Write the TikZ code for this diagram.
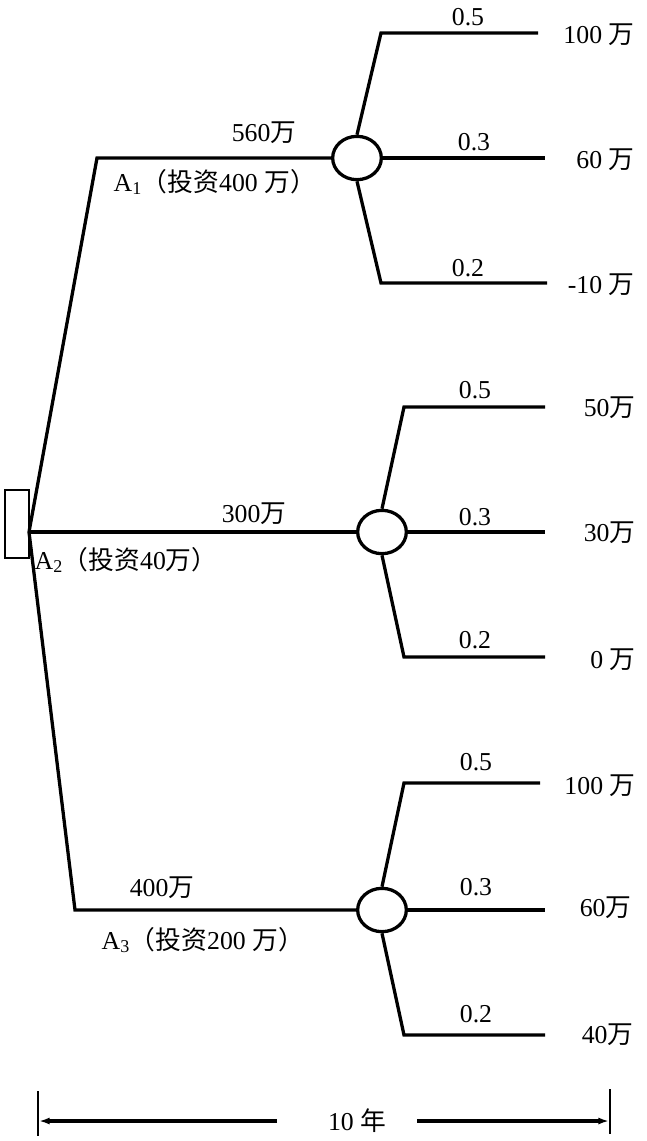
\documentclass[tikz,border=0pt]{standalone}
\usepackage{fontspec}
\setmainfont{Liberation Serif}
\newfontfamily\cjk{Noto Sans CJK SC}
\usetikzlibrary{arrows.meta,positioning,shapes.geometric}
\newcommand{\wan}{{\cjk 万}}

\begin{document}
\begin{tikzpicture}[x=0.03cm, y=-0.03cm, >={Latex[length=9pt,width=6pt]}, line width=2.8pt,
  decision/.style={draw, rectangle, line width=2.2pt, minimum width=0.72cm, minimum height=2.04cm, inner sep=0pt},
  chance/.style={draw, ellipse, minimum width=1.46cm, minimum height=1.3cm, inner sep=0pt},
  txt/.style={font=\fontsize{22}{25}\selectfont, inner sep=0pt}]
\useasboundingbox (0,0) rectangle (647,1141);

\node[decision] (dec) at (17,524) {};
\node[chance] (c1) at (357,158) {};
\node[chance] (c2) at (382,532) {};
\node[chance] (c3) at (382,910) {};

\coordinate (root) at (29,532);
\coordinate (a1) at (97,158);
\coordinate (a3) at (75,910);

\draw (root) -- (a1) -- (c1);
\draw (root) -- (c2);
\draw (root) -- (a3) -- (c3);

\node[txt] (v1) at (264,133) {560\wan};
\node[txt, anchor=west] (n1) at (112,182) {A\textsubscript{1}{\cjk （投资}400 \wan{\cjk ）}};
\node[txt] (v2) at (254,514) {300\wan};
\node[txt, anchor=west] (n2) at (33,560) {A\textsubscript{2}{\cjk （投资}40\wan{\cjk ）}};
\node[txt] (v3) at (162,888) {400\wan};
\node[txt, anchor=west] (n3) at (100,940) {A\textsubscript{3}{\cjk （投资}200 \wan{\cjk ）}};

% first chance node
\coordinate (c1u) at (381,33);
\coordinate (c1ue) at (538,33);
\coordinate (c1me) at (545,158);
\coordinate (c1d) at (381,283);
\coordinate (c1de) at (547,283);
\draw (c1.north) -- (c1u) -- (c1ue);
\draw (c1.east) -- (c1me);
\draw (c1.south) -- (c1d) -- (c1de);
\node[txt] (p11) at (468,17) {0.5};
\node[txt] (p12) at (474,142) {0.3};
\node[txt] (p13) at (468,268) {0.2};
\node[txt, anchor=east] (r11) at (636,35) {100 \wan};
\node[txt, anchor=east] (r12) at (636,160) {60 \wan};
\node[txt, anchor=east] (r13) at (636,285) {-10 \wan};

% second chance node
\coordinate (c2u) at (404,407);
\coordinate (c2ue) at (545,407);
\coordinate (c2me) at (545,532);
\coordinate (c2d) at (404,657);
\coordinate (c2de) at (545,657);
\draw (c2.north) -- (c2u) -- (c2ue);
\draw (c2.east) -- (c2me);
\draw (c2.south) -- (c2d) -- (c2de);
\node[txt] (p21) at (475,390) {0.5};
\node[txt] (p22) at (475,517) {0.3};
\node[txt] (p23) at (475,640) {0.2};
\node[txt, anchor=east] (r21) at (637,408) {50\wan};
\node[txt, anchor=east] (r22) at (637,533) {30\wan};
\node[txt, anchor=east] (r23) at (637,660) {0 \wan};

% third chance node
\coordinate (c3u) at (404,783);
\coordinate (c3ue) at (540,783);
\coordinate (c3me) at (545,910);
\coordinate (c3d) at (404,1035);
\coordinate (c3de) at (545,1035);
\draw (c3.north) -- (c3u) -- (c3ue);
\draw (c3.east) -- (c3me);
\draw (c3.south) -- (c3d) -- (c3de);
\node[txt] (p31) at (476,762) {0.5};
\node[txt] (p32) at (476,887) {0.3};
\node[txt] (p33) at (476,1014) {0.2};
\node[txt, anchor=east] (r31) at (637,786) {100 \wan};
\node[txt, anchor=east] (r32) at (633,908) {60\wan};
\node[txt, anchor=east] (r33) at (635,1035) {40\wan};

% time span
\coordinate (l0) at (38,1091);
\coordinate (l1) at (38,1136);
\coordinate (r0) at (610,1089);
\coordinate (r1) at (610,1134);
\draw[line width=2.4pt] (l0) -- (l1);
\draw[line width=2.4pt] (r0) -- (r1);
\node[txt] (span) at (357,1121) {10 {\cjk 年}};
\coordinate (la) at (39,1121);
\coordinate (lb) at (277,1121);
\coordinate (ra) at (417,1121);
\coordinate (rb) at (609,1121);
\draw[->] (lb) -- (la);
\draw[->] (ra) -- (rb);
\end{tikzpicture}
\end{document}
